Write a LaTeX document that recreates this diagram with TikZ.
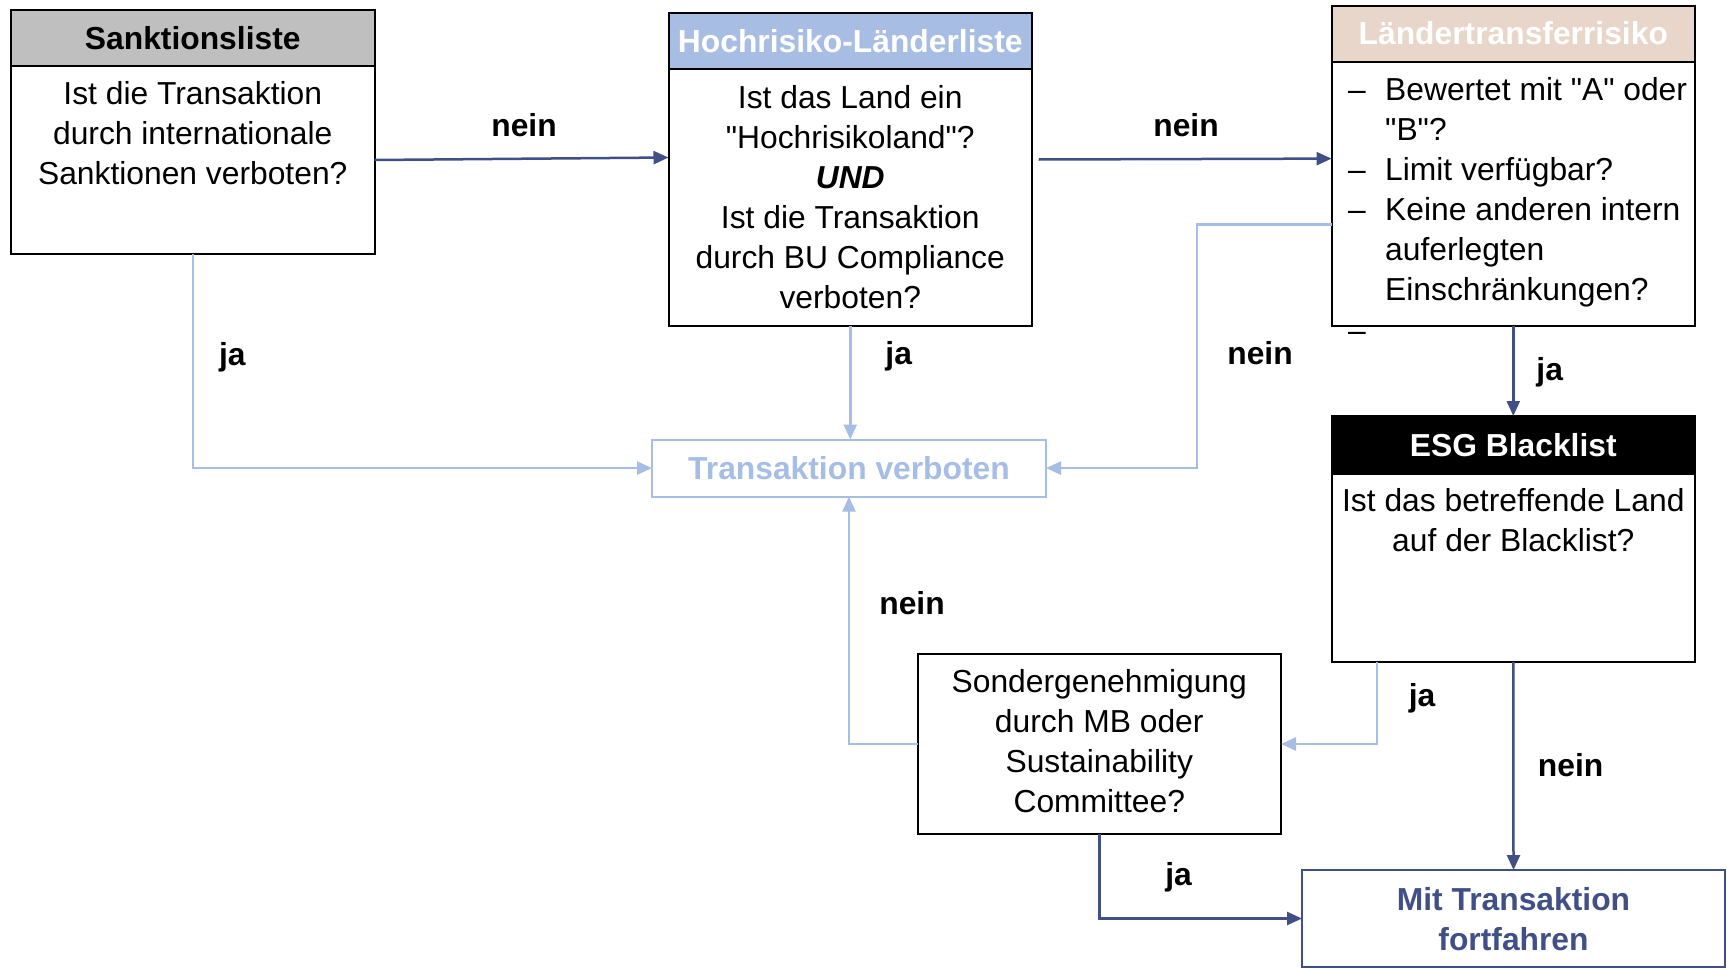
\documentclass[tikz,border=0pt]{standalone}
\usepackage{fontspec}
\setmainfont{Liberation Sans}[Ligatures=TeXOff]
\usetikzlibrary{arrows.meta,calc}
\definecolor{dblue}{RGB}{64,79,134}
\definecolor{lblue}{RGB}{166,189,228}
\definecolor{hblue}{RGB}{168,189,228}
\definecolor{beige}{RGB}{231,214,201}
\definecolor{hgray}{RGB}{191,191,191}
\newcommand{\bodyfont}{\fontsize{31.8}{40}\selectfont}
\newcommand{\dq}{"}
\newcommand{\bul}{\makebox[37pt][l]{–}}
\newcommand{\ind}{\hspace*{37pt}}
\begin{document}
\begin{tikzpicture}[x=1pt,y=-1pt,
  box/.style={draw=black,line width=2pt,inner sep=0pt,outer sep=0pt},
  hdr/.style={draw=black,line width=2pt,inner sep=0pt,outer sep=0pt,font=\bodyfont\bfseries,anchor=north},
  txt/.style={inner sep=0pt,font=\bodyfont,align=center},
  lbl/.style={inner sep=0pt,font=\bodyfont\bfseries},
  darr/.style={draw=dblue,line width=2.5pt,-{Triangle[length=15pt,width=13pt]}},
  larr/.style={draw=lblue,line width=2.5pt,-{Triangle[length=15pt,width=13pt]}}]
\useasboundingbox (0,0) rectangle (1727,969);

% boxes
\node[box,minimum width=363.5pt,minimum height=244.4pt] (sank) at (192.75,132.2) {};
\node[hdr,fill=hgray,minimum width=363.5pt,minimum height=56pt] (sankh) at (sank.north) {Sanktionsliste};
\node[txt] (sankt) at (192.75,133.3) {Ist die Transaktion\\durch internationale\\Sanktionen verboten?};

\node[box,minimum width=363.5pt,minimum height=313pt] (hoch) at (850.25,169.5) {};
\node[hdr,fill=hblue,text=white,minimum width=363.5pt,minimum height=56.4pt] (hochh) at (hoch.north) {Hochrisiko-Länderliste};
\node[txt] (hocht) at (850.25,197) {Ist das Land ein\\\dq Hochrisikoland\dq?\\\textbf{\textit{UND}}\\Ist die Transaktion\\durch BU Compliance\\verboten?};

\node[box,minimum width=363.4pt,minimum height=320.5pt] (laender) at (1513.3,165.75) {};
\node[hdr,fill=beige,text=white,minimum width=363.4pt,minimum height=56.2pt] (laenderh) at (laender.north) {Ländertransferrisiko};
\node[txt,align=left,anchor=west] (laendert) at (1348,192) {\bul Bewertet mit \dq A\dq{} oder\\\ind\dq B\dq?\\\bul Limit verfügbar?\\\bul Keine anderen intern\\\ind auferlegten\\\ind Einschränkungen?};
\node[txt,anchor=base west] (stray) at (1348,341) {–};

\node[box,minimum width=363.4pt,minimum height=246pt] (esg) at (1513.3,539) {};
\node[hdr,fill=black,text=white,minimum width=363.4pt,minimum height=57.6pt] (esgh) at (esg.north) {ESG Blacklist};
\node[txt] (esgt) at (1513.3,520.4) {Ist das betreffende Land\\auf der Blacklist?};

\node[draw=lblue,line width=2pt,inner sep=0pt,outer sep=0pt,minimum width=394pt,minimum height=57.2pt,font=\bodyfont\bfseries,text=lblue] (verb) at (849,468.1) {Transaktion verboten};

\node[box,minimum width=363.5pt,minimum height=180pt] (sonder) at (1099.25,744) {};
\node[txt] (sondert) at (1099.25,741) {Sondergenehmigung\\durch MB oder\\Sustainability\\Committee?};

\node[draw=dblue,line width=2pt,inner sep=0pt,outer sep=0pt,minimum width=423pt,minimum height=97pt] (mit) at (1513.5,918.5) {};
\node[txt,font=\bodyfont\bfseries,text=dblue] (mitt) at (1513.5,919) {Mit Transaktion\\fortfahren};

% helper coordinates
\coordinate (a1s) at (0,160);
\coordinate (a1e) at (0,157.5);
\coordinate (h2) at (1038.6,159.5);
\coordinate (h2e) at (0,158.6);
\coordinate (l5) at (1197,224.7);
\coordinate (e7) at (1376.8,0);

% connectors
\draw[darr] (sank.east |- a1s) -- (hoch.west |- a1e);
\draw[darr] (h2) -- (laender.west |- h2e);
\draw[larr] (sank.south) -- (sank.south |- verb.west) -- (verb.west);
\draw[larr] (hoch.south) -- (hoch.south |- verb.north);
\draw[larr] (laender.west |- l5) -- (l5) -- (l5 |- verb.east) -- (verb.east);
\draw[darr] (laender.south) -- (esg.north);
\draw[larr] (esg.south -| e7) -- (e7 |- sonder.east) -- (sonder.east);
\draw[darr] (esg.south) -- (mit.north);
\draw[larr] (sonder.west) -- (sonder.west -| verb.south) -- (verb.south);
\draw[darr] (sonder.south) -- (sonder.south |- mit.west) -- (mit.west);

% labels
\node[lbl] (l1) at (524,125.6) {nein};
\node[lbl] (l2) at (1186,125.6) {nein};
\node[lbl] (l3) at (232.4,357) {ja};
\node[lbl] (l4) at (898.7,356) {ja};
\node[lbl] (l5t) at (1260,353.5) {nein};
\node[lbl] (l6) at (1549.7,372.5) {ja};
\node[lbl] (l7) at (1422,698.5) {ja};
\node[lbl] (l8) at (1570.6,765.5) {nein};
\node[lbl] (l9) at (912,603.6) {nein};
\node[lbl] (l10) at (1178.5,877) {ja};
\end{tikzpicture}
\end{document}
